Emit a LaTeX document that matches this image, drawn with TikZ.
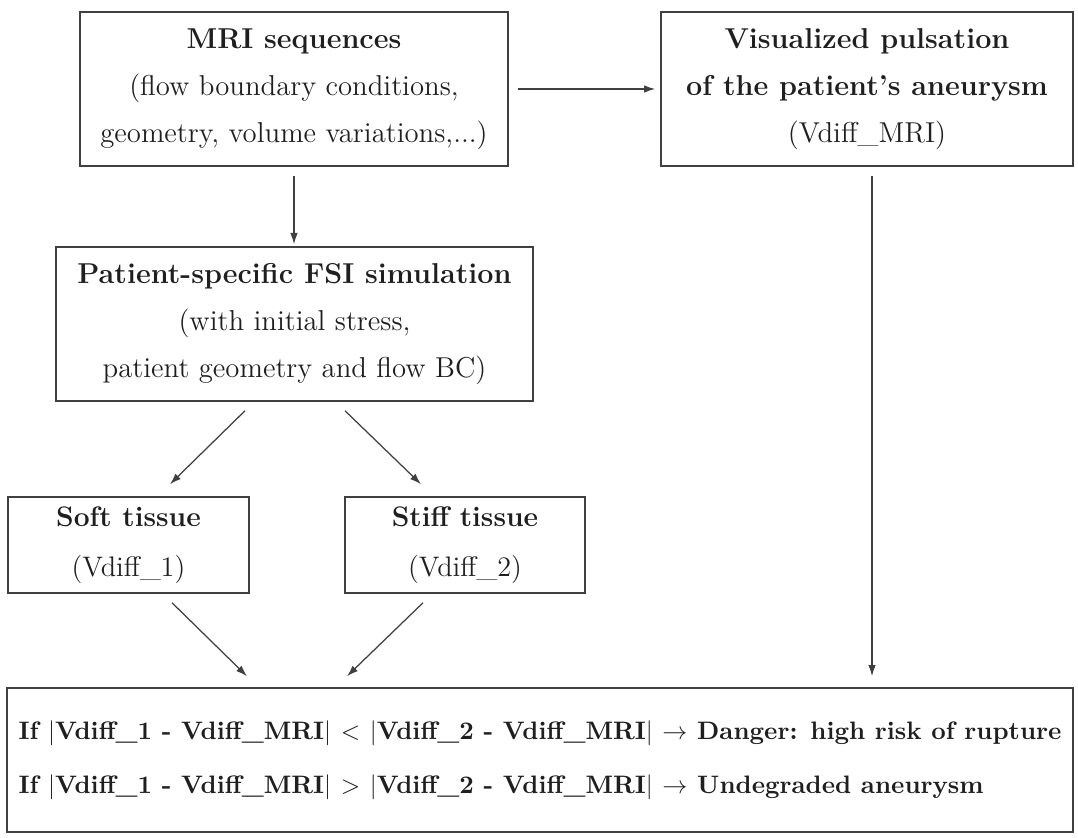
\documentclass[tikz,border=0pt]{standalone}
\usetikzlibrary{arrows.meta,calc}
\tikzset{
  box/.style={draw=black!75, line width=0.6pt, inner sep=0pt, align=center, text=black!88},
  big/.style={font=\fontsize{11.5}{18.8}\selectfont},
  small/.style={font=\fontsize{11.3}{20}\selectfont},
  bot/.style={font=\fontsize{10.1}{21.6}\selectfont\bfseries},
  arr/.style={draw=black!75, line width=0.5pt, -{Latex[length=4.5pt,width=3pt]}},
}
\begin{document}
\begin{tikzpicture}[x=0.4pt,y=-0.4pt]
\useasboundingbox (0,0) rectangle (1078,838);
\node[box,big,minimum width=171.2pt,minimum height=61.6pt] (mri) at (294,89)
  {\textbf{MRI sequences}\\(flow boundary conditions,\\geometry, volume variations,...)};
\node[box,big,minimum width=164.8pt,minimum height=61.6pt] (vis) at (867,89)
  {\textbf{Visualized pulsation}\\\textbf{of the patient's aneurysm}\\(Vdiff\_MRI)};
\node[box,big,minimum width=190.8pt,minimum height=61.6pt] (fsi) at (294.5,324)
  {\textbf{Patient-specific FSI simulation}\\(with initial stress,\\patient geometry and flow BC)};
\node[box,small,minimum width=96.4pt,minimum height=38.4pt] (soft) at (128.5,545)
  {\textbf{Soft tissue}\\(Vdiff\_1)};
\node[box,small,minimum width=96pt,minimum height=38.4pt] (stiff) at (465,545)
  {\textbf{Stiff tissue}\\(Vdiff\_2)};
\node[box,bot,align=left,minimum width=426.4pt,minimum height=57.6pt] (res) at (540,760)
  {If $|$Vdiff\_1 - Vdiff\_MRI$|$ $<$ $|$Vdiff\_2 - Vdiff\_MRI$|$ $\rightarrow$ Danger: high risk of rupture\\
   If $|$Vdiff\_1 - Vdiff\_MRI$|$ $>$ $|$Vdiff\_2 - Vdiff\_MRI$|$ $\rightarrow$ Undegraded aneurysm};
\draw[arr] ($(mri.east)+(9,0)$) -- ($(mri.east -| vis.west)+(-5,0)$);
\draw[arr] ($(mri.south)+(0,9)$) -- ($(mri.south |- fsi.north)+(0,-2)$);
\draw[arr] ($(fsi.south)+(-49.5,9)$) -- ($(soft.north)+(41.5,-12)$);
\draw[arr] ($(fsi.south)+(50.5,9)$) -- ($(stiff.north)+(-44,-12)$);
\draw[arr] ($(soft.south)+(43.5,9)$) -- ($(res.north)+(-293,-11)$);
\draw[arr] ($(stiff.south)+(-42,9)$) -- ($(res.north)+(-193,-11)$);
\draw[arr] ($(vis.south)+(5,9)$) -- ($(vis.south |- res.north)+(5,-11)$);
\end{tikzpicture}
\end{document}
